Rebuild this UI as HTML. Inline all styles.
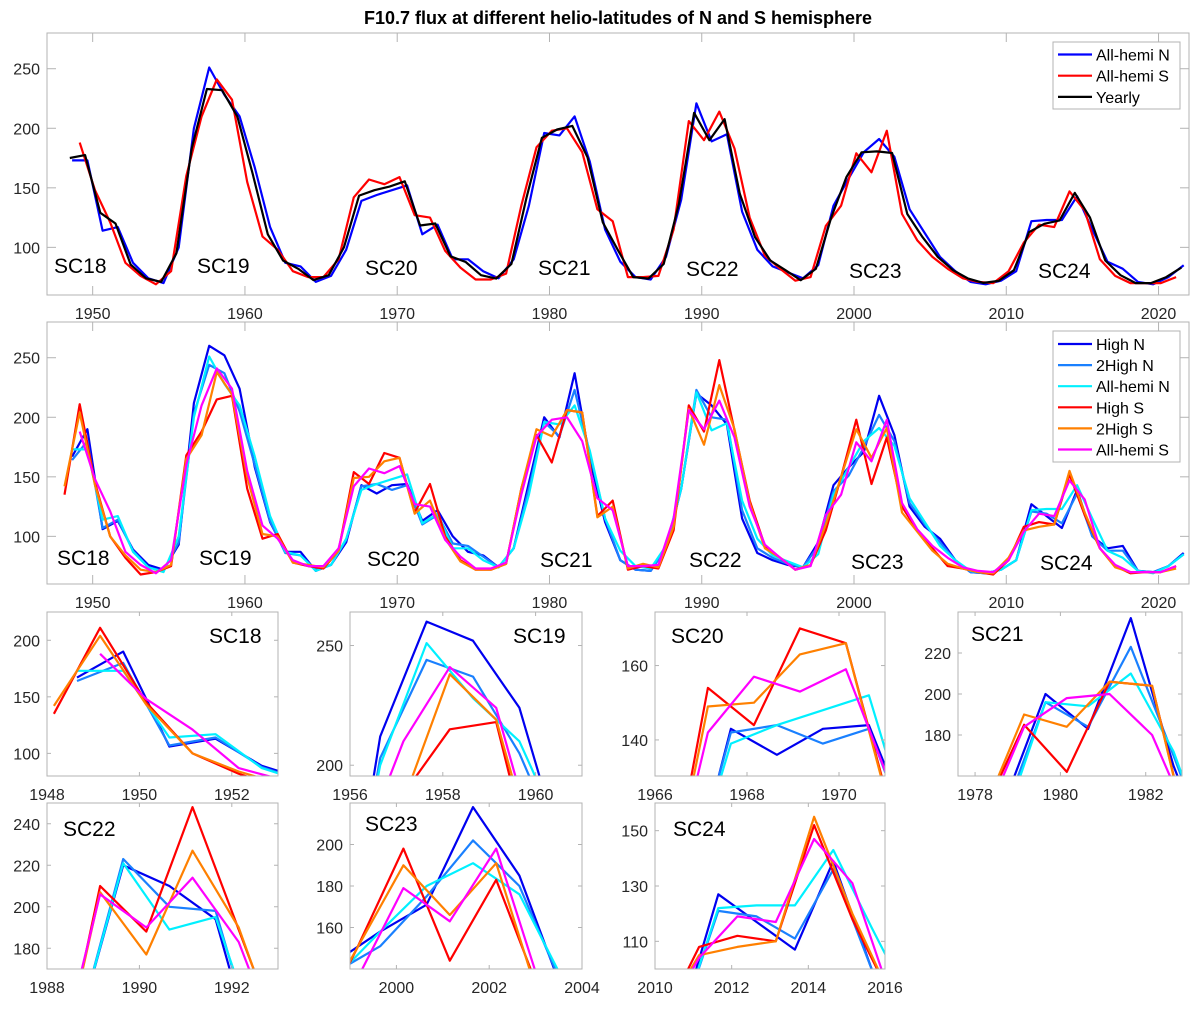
<!DOCTYPE html>
<html><head><meta charset="utf-8"><title>F10.7 flux</title>
<style>
html,body{margin:0;padding:0;background:#fff;width:1200px;height:1009px;overflow:hidden;}
svg{display:block;font-family:"Liberation Sans",Arial,sans-serif;}
</style></head>
<body>
<svg id="chart" width="1200" height="1009" viewBox="0 0 1200 1009" xmlns="http://www.w3.org/2000/svg">
<rect x="0" y="0" width="1200" height="1009" fill="#fff"/>
<text x="618" y="24" text-anchor="middle" font-size="18" font-weight="bold" fill="#000">F10.7 flux at different helio-latitudes of N and S hemisphere</text>
</svg>
<script>
// ---- data (years 1948..2021) ----
const startYear = 1948;
const yearly   = [175,177.5,129,120,85.5,74,71,95,183,233,232,210,162,111,89,82,72.5,76.6,100,143.5,148,151,155.5,118.4,120,92.5,87.7,76.6,73.8,86,142,192,199,202,175.6,121,97.5,75,73.8,86,136.5,213,190,207.7,145,108.6,89,80.8,72.4,82,125,159,179.8,180.6,179.2,128,108.6,92,80.8,73.8,70.2,71.8,80.8,112.8,119.8,122.6,145.7,125,89,76.6,70,70,75,83];
const allN     = [173,173,114,117,87,74,70,100,200,251,228,210,167,117,87,84,71,76,98,139,144,148,152,111,119,90,90,80,74,90,135,196,194,210,172,115,88,75,73,92,140,221,189,195,130,98,84,79,74,85,135,158,180,191,176,132,112,92,80,71,69,72,80,122,123,123,143,115,88,82,71,69,75,85];
const allS     = [null,188,148,121,87,76,69,80,160,210,241,224,155,109,98,80,75,75,90,142,157,153,159,127,125,97,83,73,73,78,135,184,198,200,180,132,122,75,75,76,115,206,190,214,183,125,93,82,72,75,118,135,179,163,198,128,106,92,82,74,71,70,80,104,119,117,147,131,90,76,70,70,70,75];
const highN    = [167,190,106,113,89,76,72,93,212,260,252,224,158,112,87,87,71,76,95,143,136,143,144,113,122,100,87,84,74,90,145,200,183,237,165,112,80,72,71,90,140,220,210,194,115,86,80,76,74,95,143,158,171,218,185,125,108,98,80,70,69,72,80,127,117,107,139,100,90,92,71,70,75,86];
const twoHighN = [164,180,107,114,88,74,71,95,203,244,237,205,160,113,86,84,72,76,97,142,144,139,143,110,118,94,92,83,74,90,140,196,184,223,170,115,80,72,71,90,140,223,200,198,122,90,82,77,74,92,138,151,175,202,180,128,110,95,80,70,69,72,80,121,119,111,136,100,88,88,71,70,75,85];
const highS    = [135,211,145,100,82,68,70,75,168,188,215,218,140,98,102,78,75,73,88,154,144,170,166,120,144,100,80,72,72,77,140,185,162,206,204,117,130,72,75,73,105,210,188,248,189,130,92,82,72,76,105,150,198,144,183,125,105,90,75,73,70,68,80,108,112,110,152,118,90,75,69,70,70,75];
const twoHighS = [142,204,143,100,84,72,70,76,165,185,238,219,150,102,100,78,76,74,88,149,150,163,166,119,130,98,79,72,72,77,140,190,184,206,204,116,125,73,77,74,108,207,177,227,190,128,90,82,72,76,110,150,190,166,191,120,104,88,77,73,70,69,82,105,108,110,155,120,90,74,70,70,70,73];
const cycleNames = ["SC18","SC19","SC20","SC21","SC22","SC23","SC24"];
const xTicksMain = [1950,1960,1970,1980,1990,2000,2010,2020];
const yTicksMain = [100,150,200,250];

const NS = "http://www.w3.org/2000/svg";
const svg = document.getElementById("chart");
function mk(tag, attrs, parent){ const e=document.createElementNS(NS,tag); for(const k in attrs) e.setAttribute(k,attrs[k]); (parent||svg).appendChild(e); return e; }

const C = {highN:"#0000f0", twoHighN:"#1a80ff", allN:"#00f0ff", highS:"#ff0000", twoHighS:"#ff8000", allS:"#ff00ff", allNb:"#0000ff", allSr:"#ff0000", yearly:"#000000"};
const seriesP2 = [
  {name:"High N", d:highN, off:0.65, c:C.highN, key:"high-n"},
  {name:"2High N", d:twoHighN, off:0.65, c:C.twoHighN, key:"2high-n"},
  {name:"All-hemi N", d:allN, off:0.65, c:C.allN, key:"all-hemi-n"},
  {name:"High S", d:highS, off:0.15, c:C.highS, key:"high-s"},
  {name:"2High S", d:twoHighS, off:0.15, c:C.twoHighS, key:"2high-s"},
  {name:"All-hemi S", d:allS, off:0.15, c:C.allS, key:"all-hemi-s"}
];
const seriesP1 = [
  {name:"All-hemi N", d:allN, off:0.65, c:C.allNb, key:"all-hemi-n"},
  {name:"All-hemi S", d:allS, off:0.15, c:C.allSr, key:"all-hemi-s"},
  {name:"Yearly", d:yearly, off:0.5, c:C.yearly, key:"yearly"}
];

let clipId=0;
function axes(o){
  const g = mk("g",{});
  
  
  const sx = v => o.x0 + (v-o.xlim[0])/(o.xlim[1]-o.xlim[0])*(o.x1-o.x0);
  const sy = v => o.y1 - (v-o.ylim[0])/(o.ylim[1]-o.ylim[0])*(o.y1-o.y0);
  const id = "clip"+(clipId++);
  const cp = mk("clipPath",{id:id},g);
  mk("rect",{x:o.x0,y:o.y0,width:o.x1-o.x0,height:o.y1-o.y0},cp);
  const lg = mk("g",{"clip-path":"url(#"+id+")"},g);
  o.series.forEach(s=>{
    let pts=[];
    s.d.forEach((v,i)=>{ if(v!==null) pts.push(sx(startYear+i+s.off).toFixed(1)+","+sy(v).toFixed(1)); });
    const p = mk("polyline",{points:pts.join(" "),fill:"none",stroke:s.c,"stroke-width":o.lw||2.2,"stroke-linejoin":"round"},lg);
    
    
  });
  const fr = mk("rect",{x:o.x0,y:o.y0,width:o.x1-o.x0,height:o.y1-o.y0,fill:"none",stroke:"#b3b3b3","stroke-width":1},g);
  
  
  const tl = o.tl||8;
  o.xt.forEach(t=>{
    const x=sx(t);
    mk("line",{x1:x,y1:o.y1,x2:x,y2:o.y1-tl,stroke:"#b3b3b3"},g);
    mk("line",{x1:x,y1:o.y0,x2:x,y2:o.y0+tl,stroke:"#b3b3b3"},g);
    const tx = mk("text",{x:x,y:o.y1+24,"text-anchor":"middle","font-size":16,fill:"#262626"},g);
    tx.textContent=t;
    
    
  });
  o.yt.forEach(t=>{
    const y=sy(t);
    mk("line",{x1:o.x0,y1:y,x2:o.x0+tl,y2:y,stroke:"#b3b3b3"},g);
    mk("line",{x1:o.x1,y1:y,x2:o.x1-tl,y2:y,stroke:"#b3b3b3"},g);
    const tx = mk("text",{x:o.x0-7,y:y+6,"text-anchor":"end","font-size":16,fill:"#262626"},g);
    tx.textContent=t;
    
    
  });
  (o.labels||[]).forEach(l=>{
    const tx = mk("text",{x:l[1],y:l[2],"font-size":21,fill:"#000"},g);
    tx.textContent=l[0];
    
    
  });
  if(o.legend){
    const L=o.legend;
    const lgG = mk("g",{},g);
    
    
    mk("rect",{x:1053,y:L.y0,width:127,height:L.h,fill:"#fff",stroke:"#b3b3b3"},lgG);
    o.series.forEach((s,i)=>{
      const y=L.y0+L.first+i*L.step;
      const e = mk("g",{},lgG);
      
      
      mk("line",{x1:1058,y1:y,x2:1092,y2:y,stroke:s.c,"stroke-width":2.2},e);
      const tx=mk("text",{x:1096,y:y+6,"font-size":16,fill:"#000"},e);
      tx.textContent=s.name;
    });
  }
}

axes({name:"panel-all-hemi-yearly",x0:47,x1:1189,y0:33,y1:295,xlim:[1947,2022],ylim:[60,280],xt:xTicksMain,yt:yTicksMain,series:seriesP1,tl:9,
  labels:[[cycleNames[0],54,273],[cycleNames[1],197,273],[cycleNames[2],365,275],[cycleNames[3],538,275],[cycleNames[4],686,276],[cycleNames[5],849,278],[cycleNames[6],1038,278]],
  legend:{y0:42,h:67,first:12.5,step:21.2}});
axes({name:"panel-latitude-bands",x0:47,x1:1189,y0:322,y1:584,xlim:[1947,2022],ylim:[60,280],xt:xTicksMain,yt:yTicksMain,series:seriesP2,tl:9,
  labels:[[cycleNames[0],57,565],[cycleNames[1],199,565],[cycleNames[2],367,566],[cycleNames[3],540,567],[cycleNames[4],689,567],[cycleNames[5],851,569],[cycleNames[6],1040,570]],
  legend:{y0:331,h:131,first:13,step:21.1}});

const small = [
  {n:0,x0:47,x1:278,y0:612,y1:776,xlim:[1948,1953],ylim:[80,225],xt:[1948,1950,1952],yt:[100,150,200],lx:209,ly:643},
  {n:1,x0:350,x1:582,y0:612,y1:776,xlim:[1956,1961],ylim:[195.5,264],xt:[1956,1958,1960],yt:[200,250],lx:513,ly:643},
  {n:2,x0:655,x1:885,y0:612,y1:776,xlim:[1966,1971],ylim:[130.3,174.4],xt:[1966,1968,1970],yt:[140,160],lx:671,ly:643},
  {n:3,x0:958,x1:1182,y0:612,y1:776,xlim:[1977.6,1982.85],ylim:[160,240],xt:[1978,1980,1982],yt:[180,200,220],lx:971,ly:641},
  {n:4,x0:47,x1:278,y0:803,y1:969,xlim:[1988,1993],ylim:[170,250],xt:[1988,1990,1992],yt:[180,200,220,240],lx:63,ly:836},
  {n:5,x0:350,x1:582,y0:803,y1:969,xlim:[1999,2004],ylim:[140,220],xt:[2000,2002,2004],yt:[160,180,200],lx:365,ly:831},
  {n:6,x0:655,x1:885,y0:803,y1:969,xlim:[2010,2016],ylim:[100,160],xt:[2010,2012,2014,2016],yt:[110,130,150],lx:673,ly:836}
];
small.forEach(s=>{
  axes({name:"panel-"+cycleNames[s.n].toLowerCase(),x0:s.x0,x1:s.x1,y0:s.y0,y1:s.y1,xlim:s.xlim,ylim:s.ylim,xt:s.xt,yt:s.yt,series:seriesP2,tl:4,
    labels:[[cycleNames[s.n],s.lx,s.ly]]});
});
</script>
</body></html>
